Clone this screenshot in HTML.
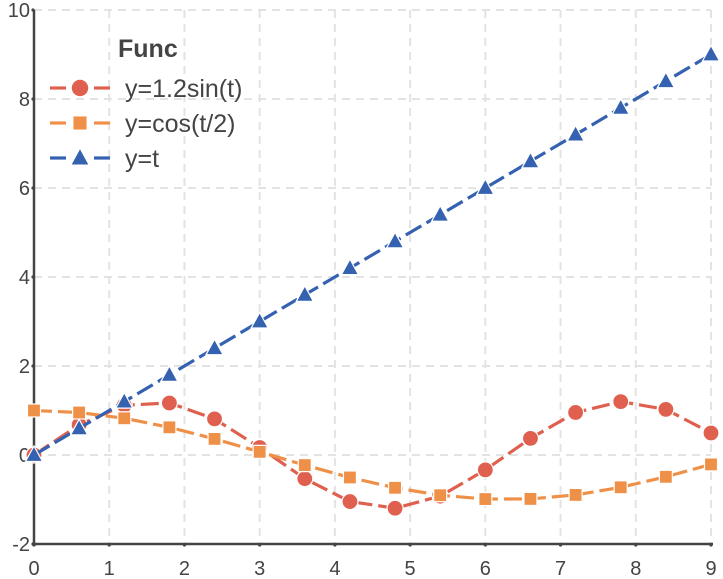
<!DOCTYPE html>
<html><head><meta charset="utf-8"><style>
body{margin:0;background:#fff}
svg{display:block;font-family:"Liberation Sans",Arial,sans-serif}
</style></head><body>
<svg id="chart" width="723" height="579" viewBox="0 0 723 579" xmlns="http://www.w3.org/2000/svg"></svg>
<script>
const tValues=[0,0.6,1.2,1.8,2.4,3.0,3.6,4.2,4.8,5.4,6.0,6.6,7.2,7.8,8.4,9.0];
const sinValues=[0,0.678,1.118,1.169,0.811,0.169,-0.532,-1.046,-1.196,-0.925,-0.335,0.373,0.956,1.199,1.025,0.495];
const cosValues=[1,0.955,0.825,0.622,0.362,0.071,-0.227,-0.505,-0.737,-0.904,-0.990,-0.987,-0.897,-0.726,-0.490,-0.211];
const linValues=[0,0.6,1.2,1.8,2.4,3.0,3.6,4.2,4.8,5.4,6.0,6.6,7.2,7.8,8.4,9.0];
const xTicks=[0,1,2,3,4,5,6,7,8,9];
const yTicks=[-2,0,2,4,6,8,10];
const seriesNames=["y=1.2sin(t)","y=cos(t/2)","y=t"];

const svg=document.getElementById('chart');
const NS='http://www.w3.org/2000/svg';
const X0=34,X1=711,Y0=544,Y1=10,xmin=0,xmax=9,ymin=-2,ymax=10;
const sx=v=>X0+(v-xmin)/(xmax-xmin)*(X1-X0);
const sy=v=>Y0-(v-ymin)/(ymax-ymin)*(Y0-Y1);
function mk(tag,attrs,parent){const e=document.createElementNS(NS,tag);for(const k in attrs)e.setAttribute(k,attrs[k]);(parent||svg).appendChild(e);return e;}

const grid=mk('g',{});


xTicks.forEach(v=>{if(v>0)mk('line',{x1:sx(v),x2:sx(v),y1:Y1,y2:Y0,stroke:'#e3e3e3','stroke-width':2,'stroke-dasharray':'8,6'},grid);});
yTicks.forEach(v=>{if(v>ymin)mk('line',{x1:X0,x2:X1,y1:sy(v),y2:sy(v),stroke:'#e3e3e3','stroke-width':2,'stroke-dasharray':'8,6'},grid);});

const ax=mk('g',{});


mk('line',{x1:X0,x2:X0,y1:Y1,y2:Y0,stroke:'#444','stroke-width':2.5},ax);
mk('line',{x1:X0,x2:X1+2,y1:Y0,y2:Y0,stroke:'#444','stroke-width':2.5},ax);
xTicks.forEach(v=>{
  mk('circle',{cx:sx(v),cy:Y0+1,r:1.6,fill:'#444'},ax);
  const t=mk('text',{x:sx(v),y:Y0+31,'text-anchor':'middle','font-size':20,fill:'#444'},ax);
  t.textContent=v;
  
  
});
yTicks.forEach(v=>{
  mk('circle',{cx:X0-1,cy:sy(v),r:1.6,fill:'#444'},ax);
  const t=mk('text',{x:X0-4,y:sy(v)+7,'text-anchor':'end','font-size':20,fill:'#444'},ax);
  t.textContent=v;
  
  
});

function marker(kind,x,y,color,parent,s){
  s=s||1;
  if(kind==='circle')return mk('circle',{cx:x,cy:y,r:8*s,fill:color,stroke:'#fff','stroke-width':1.2},parent);
  if(kind==='square')return mk('rect',{x:x-6.5*s,y:y-6.5*s,width:13*s,height:13*s,fill:color,stroke:'#fff','stroke-width':1.2},parent);
  return mk('polygon',{points:`${x},${y-9*s} ${x+8.5*s},${y+6.5*s} ${x-8.5*s},${y+6.5*s}`,fill:color,stroke:'#fff','stroke-width':1.2},parent);
}
const series=[
  {vals:sinValues,color:'#e0604f',m:'circle',name:'series-sin'},
  {vals:cosValues,color:'#ef9048',m:'square',name:'series-cos'},
  {vals:linValues,color:'#3461b0',m:'triangle',name:'series-linear'}
];
series.forEach(s=>{
  const g=mk('g',{});
  
  
  mk('polyline',{points:tValues.map((t,i)=>sx(t)+','+sy(s.vals[i])).join(' '),fill:'none',stroke:s.color,'stroke-width':3.2,'stroke-dasharray':'18,6'},g);
  tValues.forEach((t,i)=>{const p=marker(s.m,sx(t),sy(s.vals[i]),s.color,g);
    
    });
});

const lg=mk('g',{});


const title=mk('text',{x:118,y:57,'font-size':25,'font-weight':'bold',fill:'#444'},lg);
title.textContent='Func';
series.forEach((s,i)=>{
  const y=88+i*35;
  const e=mk('g',{},lg);
  
  
  mk('line',{x1:50,x2:66,y1:y,y2:y,stroke:s.color,'stroke-width':3.2},e);
  mk('line',{x1:94,x2:110,y1:y,y2:y,stroke:s.color,'stroke-width':3.2},e);
  marker(s.m,80,y,s.color,e,1.1);
  const t=mk('text',{x:125,y:y+9,'font-size':25,fill:'#444'},e);
  t.textContent=seriesNames[i];
});
</script>
</body></html>
